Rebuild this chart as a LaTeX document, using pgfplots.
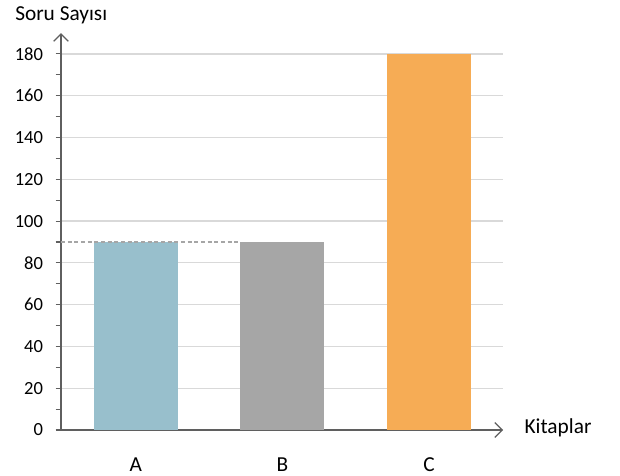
\documentclass[border=0pt]{standalone}
\usepackage{pgfplots}
\pgfplotsset{compat=1.18}
\usepackage{fontspec}
\setmainfont{Carlito}
\usetikzlibrary{arrows.meta}
\definecolor{barA}{HTML}{98BFCC}
\definecolor{barB}{HTML}{A6A6A6}
\definecolor{barC}{HTML}{F6AC55}
\definecolor{axgray}{HTML}{5F5F5F}
\definecolor{gridgray}{HTML}{D9D9D9}
\begin{document}
\begin{tikzpicture}
\path[use as bounding box] (-45.75pt,-33.75pt) rectangle (419.25pt,322.5pt);
\begin{axis}[
  scale only axis,
  width=331.5pt, height=297.7pt,
  xmin=-0.51, xmax=2.505,
  ymin=0, ymax=190,
  axis lines=left,
  axis line style={draw=axgray, line width=1.1pt, -{Straight Barb[length=5.5pt,width=11pt,line width=0.9pt]}},
  xtick={0,1,2},
  xticklabels={A,B,C},
  x tick style={draw=none},
  xticklabel style={font=\fontsize{16}{19}\selectfont, yshift=-13pt},
  ytick={0,20,...,180},
  minor ytick={10,30,...,170},
  y tick style={draw=axgray, line width=0.8pt},
  tick align=outside,
  major tick length=4pt,
  minor tick length=4pt,
  yticklabel style={font=\fontsize{13.9}{16}\selectfont, xshift=-6pt},
  /pgf/number format/assume math mode=true,
  ymajorgrids,
  grid style={draw=gridgray, line width=0.9pt},
  xlabel={Kitaplar},
  xlabel style={font=\fontsize{16}{19}\selectfont, at={(axis description cs:1,0)}, anchor=west, xshift=16pt, yshift=2pt, inner sep=0pt},
  ylabel={Soru Sayısı},
  ylabel style={font=\fontsize{16}{19}\selectfont, rotate=-90, at={(axis description cs:0,1)}, anchor=west, xshift=-34.5pt, yshift=13.5pt, inner sep=0pt},
  ybar, bar width=0.573,
  bar shift=0pt,
  axis on top=false,
]
\addplot[fill=barA, draw=none] coordinates {(0,90)};
\addplot[fill=barB, draw=none] coordinates {(1,90)};
\addplot[fill=barC, draw=none] coordinates {(2,180)};
\addplot[sharp plot, draw=barB, dashed, line width=0.8pt, dash pattern=on 3pt off 2pt] coordinates {(-0.51,90) (0.7135,90)};
\end{axis}
\end{tikzpicture}
\end{document}
